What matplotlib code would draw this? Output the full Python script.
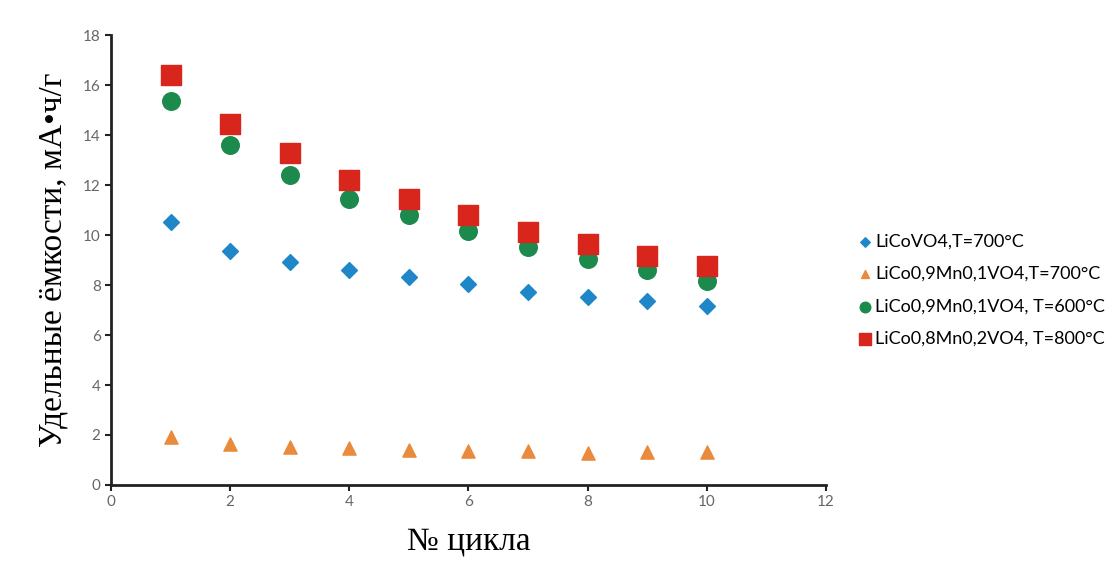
import matplotlib
matplotlib.use("Agg")
import matplotlib.pyplot as plt

# данные
cycles = [1, 2, 3, 4, 5, 6, 7, 8, 9, 10]
licovo4_700 = [10.52, 9.36, 8.92, 8.6, 8.32, 8.04, 7.72, 7.52, 7.36, 7.16]
mn01_700 = [1.92, 1.64, 1.52, 1.48, 1.4, 1.36, 1.36, 1.28, 1.32, 1.32]
mn01_600 = [15.36, 13.6, 12.4, 11.44, 10.8, 10.16, 9.52, 9.04, 8.6, 8.16]
mn02_800 = [16.4, 14.44, 13.28, 12.2, 11.44, 10.8, 10.12, 9.64, 9.16, 8.76]

labels = ['LiCoVO4,T=700°C', 'LiCo0,9Mn0,1VO4,T=700°C',
          'LiCo0,9Mn0,1VO4, T=600°C', 'LiCo0,8Mn0,2VO4, T=800°C']

plt.rcParams['font.family'] = ['Lato', 'DejaVu Sans']

fig = plt.figure(figsize=(11.15, 5.78), dpi=100)
ax = fig.add_axes([0.0996, 0.161, 0.641, 0.778])

ax.scatter(cycles, licovo4_700, marker='D', s=65, color='#1f87c8', label=labels[0], zorder=3)
ax.scatter(cycles, mn01_700, marker='^', s=90, color='#e98a3c', label=labels[1], zorder=3)
ax.scatter(cycles, mn01_600, marker='o', s=160, color='#1b8a4c', label=labels[2], zorder=3)
ax.scatter(cycles, mn02_800, marker='s', s=190, color='#d9261c', label=labels[3], zorder=3)

ax.set_xlim(0, 12)
ax.set_ylim(0, 18)
ax.set_xticks(range(0, 13, 2))
ax.set_yticks(range(0, 19, 2))

for s in ['top', 'right']:
    ax.spines[s].set_visible(False)
for s in ['left', 'bottom']:
    ax.spines[s].set_linewidth(2)
    ax.spines[s].set_color('#222222')

ax.tick_params(direction='out', length=4, width=1.5, labelsize=11, labelcolor='#666666', color='#222222')

ax.set_xlabel('№ цикла', fontsize=24, family='Liberation Serif', labelpad=12)
ax.set_ylabel('Удельные ёмкости, мА•ч/г', fontsize=24, family='Liberation Serif', labelpad=10)

leg = ax.legend(loc='center left', bbox_to_anchor=(1.02, 0.433), frameon=False,
                fontsize=13, handletextpad=0.05, labelspacing=0.9, markerscale=0.6,
                handlelength=1.0)

fig.savefig('out.png', dpi=100)
